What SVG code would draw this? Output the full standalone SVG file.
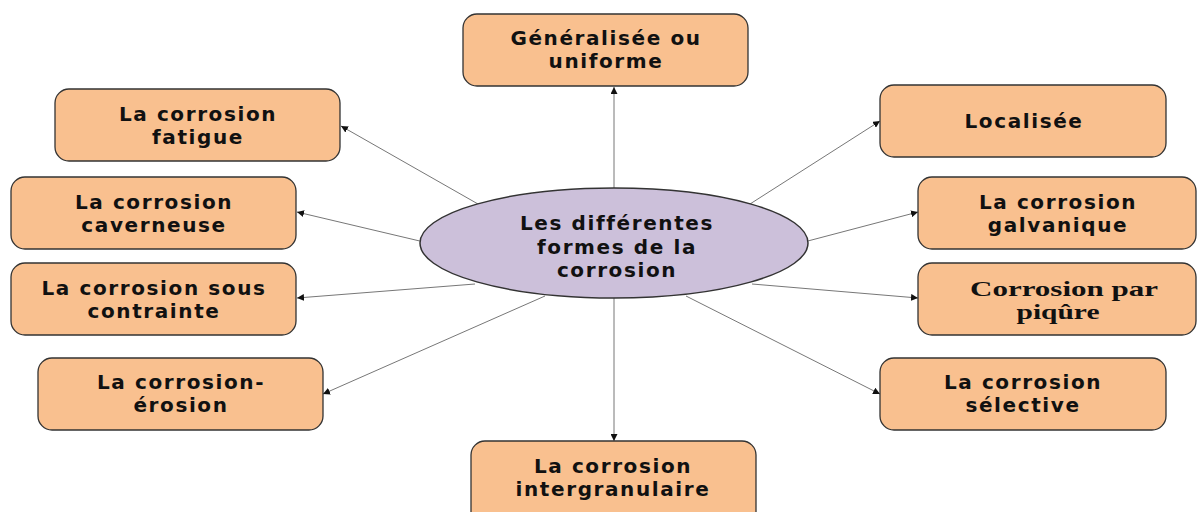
<svg xmlns="http://www.w3.org/2000/svg" width="1198" height="512" viewBox="0 0 1198 512">
<defs>
<marker id="ah" viewBox="0 0 10 10" refX="10" refY="5" markerWidth="7" markerHeight="7" markerUnits="userSpaceOnUse" orient="auto">
<path d="M0,0 L10,5 L0,10 z" fill="#111"/>
</marker>
<style>
.box{fill:#F9C08F;stroke:#333;stroke-width:1.3}
.ell{fill:#CCC0DA;stroke:#333;stroke-width:1.5}
.t{font-family:"DejaVu Sans","Liberation Sans",sans-serif;font-weight:bold;font-size:20px;fill:#111;text-anchor:middle;letter-spacing:1.6px}
.s{font-family:"Liberation Serif",serif;font-weight:bold;font-size:21px;fill:#111;text-anchor:middle}
.c{stroke:#777;stroke-width:1;fill:none;marker-end:url(#ah)}
</style>
</defs>
<rect width="1198" height="512" fill="#fff"/>
<g id="connectors">
<line class="c" x1="614" y1="190" x2="614" y2="87"/>
<line class="c" x1="614" y1="296" x2="614" y2="441"/>
<line class="c" x1="478" y1="204" x2="341" y2="126"/>
<line class="c" x1="424" y1="242" x2="297" y2="212"/>
<line class="c" x1="475" y1="284" x2="297" y2="298"/>
<line class="c" x1="545" y1="296" x2="323" y2="394"/>
<line class="c" x1="750" y1="204" x2="880" y2="121"/>
<line class="c" x1="804" y1="242" x2="918" y2="212"/>
<line class="c" x1="752" y1="284" x2="918" y2="298"/>
<line class="c" x1="686" y1="296" x2="880" y2="394"/>
</g>
<g id="center">
<ellipse class="ell" cx="614" cy="243" rx="194" ry="55"/>
<text class="t" x="617" y="230">Les différentes</text>
<text class="t" x="617" y="254">formes de la</text>
<text class="t" x="617" y="277">corrosion</text>
</g>
<g id="generalisee">
<rect class="box" x="463" y="14" width="285" height="72" rx="14"/>
<text class="t" x="606" y="45">Généralisée ou</text>
<text class="t" x="606" y="68">uniforme</text>
</g>
<g id="fatigue">
<rect class="box" x="55" y="89" width="285" height="72" rx="14"/>
<text class="t" x="198" y="121">La corrosion</text>
<text class="t" x="198" y="144">fatigue</text>
</g>
<g id="caverneuse">
<rect class="box" x="11" y="177" width="285" height="72" rx="14"/>
<text class="t" x="154" y="209">La corrosion</text>
<text class="t" x="154" y="232">caverneuse</text>
</g>
<g id="contrainte">
<rect class="box" x="11" y="263" width="285" height="72" rx="14"/>
<text class="t" x="154" y="295">La corrosion sous</text>
<text class="t" x="154" y="318">contrainte</text>
</g>
<g id="erosion">
<rect class="box" x="38" y="358" width="285" height="72" rx="14"/>
<text class="t" x="181" y="389">La corrosion-</text>
<text class="t" x="181" y="412">érosion</text>
</g>
<g id="localisee">
<rect class="box" x="880" y="85" width="286" height="72" rx="14"/>
<text class="t" x="1024" y="128">Localisée</text>
</g>
<g id="galvanique">
<rect class="box" x="918" y="177" width="278" height="72" rx="14"/>
<text class="t" x="1058" y="209">La corrosion</text>
<text class="t" x="1058" y="232">galvanique</text>
</g>
<g id="piqure">
<rect class="box" x="918" y="263" width="278" height="72" rx="14"/>
<text class="s" x="1064" y="296" textLength="188" lengthAdjust="spacingAndGlyphs">Corrosion par</text>
<text class="s" x="1058" y="319" textLength="83" lengthAdjust="spacingAndGlyphs">piqûre</text>
</g>
<g id="selective">
<rect class="box" x="880" y="358" width="286" height="72" rx="14"/>
<text class="t" x="1023" y="389">La corrosion</text>
<text class="t" x="1023" y="412">sélective</text>
</g>
<g id="intergranulaire">
<rect class="box" x="471" y="441" width="285" height="90" rx="14"/>
<text class="t" x="613" y="473">La corrosion</text>
<text class="t" x="613" y="496">intergranulaire</text>
</g>
</svg>
